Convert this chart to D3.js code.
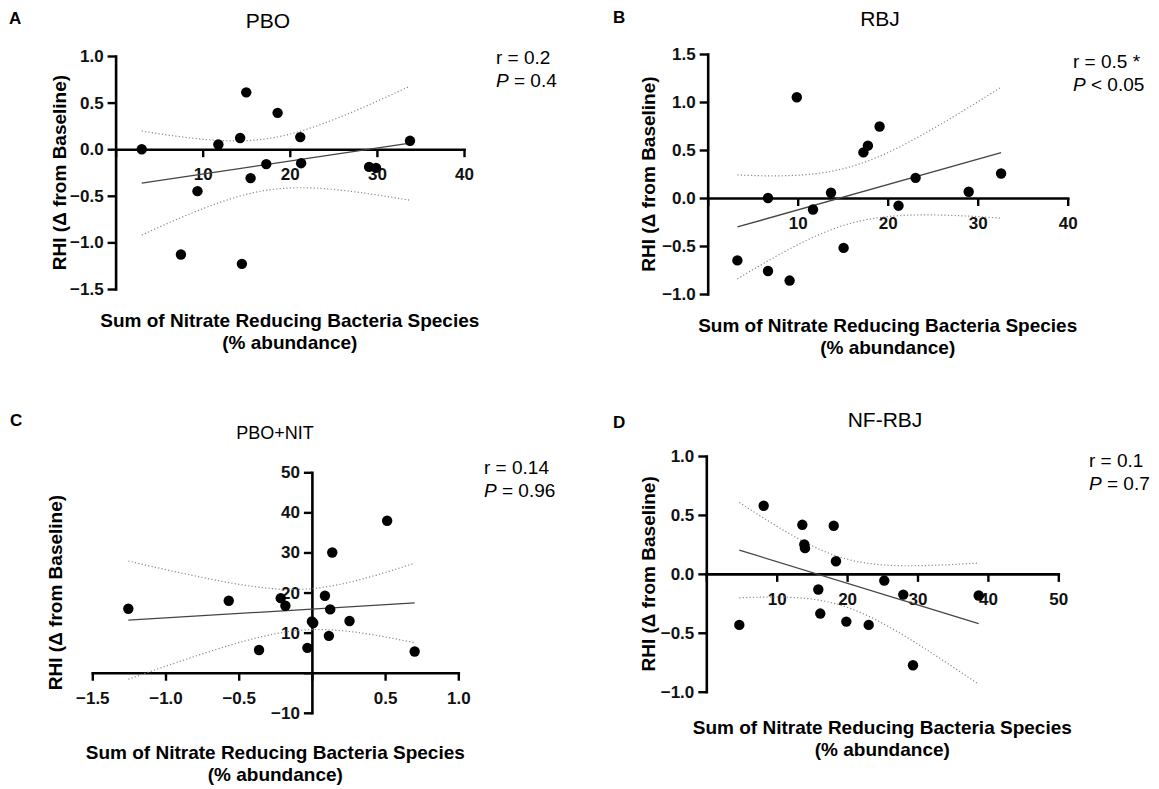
<!DOCTYPE html>
<html>
<head>
<meta charset="utf-8">
<script src="https://cdn.jsdelivr.net/npm/d3@7"></script>
<style>
  body { margin: 0; background: #fff; }
  svg { display: block; font-family: "Liberation Sans", Arial, sans-serif; }
</style>
</head>
<body>
<svg id="chart" width="1159" height="789"></svg>
<script>
// x = sum of nitrate reducing bacteria species (% abundance), y = RHI change from baseline
const pboX = [3.0, 7.5, 9.4, 11.8, 14.3, 15.0, 14.5, 15.5, 17.3, 18.6, 21.2, 21.3, 29.1, 29.9, 33.8];
const pboY = [0.0, -1.13, -0.45, 0.05, 0.12, 0.61, -1.23, -0.31, -0.16, 0.39, 0.13, -0.15, -0.19, -0.20, 0.09];

const rbjX = [3.3, 6.7, 6.7, 9.1, 9.9, 11.7, 13.7, 15.1, 17.3, 17.8, 19.1, 21.2, 23.1, 29.0, 32.6];
const rbjY = [-0.65, 0.0, -0.76, -0.86, 1.05, -0.12, 0.055, -0.52, 0.475, 0.545, 0.745, -0.08, 0.21, 0.065, 0.255];

const nitX = [-1.254, -0.568, -0.361, -0.213, -0.181, -0.031, 0.0, 0.009, 0.089, 0.116, 0.125, 0.139, 0.257, 0.514, 0.702];
const nitY = [15.96, 17.96, 5.66, 18.6, 16.7, 6.2, 12.8, 12.4, 19.2, 9.2, 15.8, 30.0, 12.9, 37.9, 5.3];

const nfX = [4.69, 8.15, 13.64, 13.92, 14.02, 15.91, 16.19, 18.1, 18.42, 19.89, 23.07, 25.28, 27.98, 29.36, 38.69];
const nfY = [-0.433, 0.578, 0.416, 0.249, 0.218, -0.133, -0.337, 0.408, 0.107, -0.405, -0.433, -0.057, -0.176, -0.776, -0.184];

const panelLetters = ['A', 'B', 'C', 'D'];
const panelNames = ['PBO', 'RBJ', 'PBO+NIT', 'NF-RBJ'];
const rLabels = ['r = 0.2', 'r = 0.5 *', 'r = 0.14', 'r = 0.1'];
const pLabels = [' = 0.4', ' < 0.05', ' = 0.96', ' = 0.7'];

const xTicksA = [0, 10, 20, 30, 40];
const yTicksA = [-1.5, -1.0, -0.5, 0.0, 0.5, 1.0];
const xTicksB = [0, 10, 20, 30, 40];
const yTicksB = [-1.0, -0.5, 0.0, 0.5, 1.0, 1.5];
const xTicksC = [-1.5, -1.0, -0.5, 0.0, 0.5, 1.0];
const yTicksC = [-10, 0, 10, 20, 30, 40, 50];
const xTicksD = [0, 10, 20, 30, 40, 50];
const yTicksD = [-1.0, -0.5, 0.0, 0.5, 1.0];

const yTitle = 'RHI (\u0394 from Baseline)';
const xTitle1 = 'Sum of Nitrate Reducing Bacteria Species';
const xTitle2 = '(% abundance)';

// t(0.975, df) for the 95% confidence band
const tCrit = { 13: 2.1604 };

const panels = [
  { xs: pboX, ys: pboY, xTicks: xTicksA, yTicks: yTicksA, fmtY: d3.format('.1f'), fmtX: d3.format('d'),
    xr: [115.6, 464], yr: [289, 56], letter: [9, 18], title: [268, 20, 21], rp: [496, 57],
    yTitleX: 59, xTitleY: 320, hideX0: true, hideY0: false },
  { xs: rbjX, ys: rbjY, xTicks: xTicksB, yTicks: yTicksB, fmtY: d3.format('.1f'), fmtX: d3.format('d'),
    xr: [707.7, 1067.7], yr: [294, 54], letter: [613, 17], title: [880, 18, 21], rp: [1073, 61],
    yTitleX: 648, xTitleY: 325, hideX0: true, hideY0: false },
  { xs: nitX, ys: nitY, xTicks: xTicksC, yTicks: yTicksC, fmtY: d3.format('d'), fmtX: d3.format('.1f'),
    xr: [92.3, 458.3], yr: [712.8, 472.3], letter: [10, 420], title: [275, 433, 18], rp: [484, 467],
    yTitleX: 55, xTitleY: 752, hideX0: true, hideY0: true },
  { xs: nfX, ys: nfY, xTicks: xTicksD, yTicks: yTicksD, fmtY: d3.format('.1f'), fmtX: d3.format('d'),
    xr: [706.3, 1058.3], yr: [691.7, 456], letter: [613, 422], title: [885, 419, 21], rp: [1089, 460],
    yTitleX: 648, xTitleY: 727, hideX0: true, hideY0: false }
];

const svg = d3.select('#chart');

function fit(xs, ys) {
  const n = xs.length;
  const mx = d3.mean(xs), my = d3.mean(ys);
  let sxx = 0, sxy = 0, syy = 0;
  for (let i = 0; i < n; i++) {
    sxx += (xs[i] - mx) ** 2;
    sxy += (xs[i] - mx) * (ys[i] - my);
    syy += (ys[i] - my) ** 2;
  }
  const slope = sxy / sxx;
  const icpt = my - slope * mx;
  const s = Math.sqrt((syy - sxy * sxy / sxx) / (n - 2));
  const t = tCrit[n - 2] || 2.0;
  return { slope, icpt, band: x => t * s * Math.sqrt(1 / n + (x - mx) ** 2 / sxx) };
}

panels.forEach((p, i) => {
  const x = d3.scaleLinear().domain(d3.extent(p.xTicks)).range(p.xr);
  const y = d3.scaleLinear().domain(d3.extent(p.yTicks)).range(p.yr);
  const g = svg.append('g');

  // panel letter and title
  g.append('text').attr('x', p.letter[0]).attr('y', p.letter[1] + 6)
    .style('font-size', '17px').style('font-weight', 'bold').text(panelLetters[i]);
  g.append('text').attr('x', p.title[0]).attr('y', p.title[1] + p.title[2] * 0.36)
    .attr('text-anchor', 'middle').style('font-size', p.title[2] + 'px').text(panelNames[i]);

  // r / P annotation
  g.append('text').attr('x', p.rp[0]).attr('y', p.rp[1] + 7)
    .style('font-size', '19px').text(rLabels[i]);
  const pt = g.append('text').attr('x', p.rp[0]).attr('y', p.rp[1] + 30).style('font-size', '19px');
  pt.append('tspan').style('font-style', 'italic').text('P');
  pt.append('tspan').text(pLabels[i]);

  // axes, crossing at zero
  const xAxis = d3.axisBottom(x).tickValues(p.xTicks).tickSize(8).tickSizeOuter(0).tickPadding(11)
    .tickFormat(d => (d === 0 && p.hideX0) ? '' : p.fmtX(d));
  const yAxis = d3.axisLeft(y).tickValues(p.yTicks).tickSize(8).tickSizeOuter(0).tickPadding(4)
    .tickFormat(d => (d === 0 && p.hideY0) ? '' : p.fmtY(d));

  const gx = g.append('g').attr('transform', `translate(0,${y(0)})`).call(xAxis);
  const gy = g.append('g').attr('transform', `translate(${x(0)},0)`).call(yAxis);
  [gx, gy].forEach(a => {
    a.select('.domain').attr('stroke', '#000').attr('stroke-width', 2.6).attr('stroke-linecap', 'square');
    a.selectAll('.tick line').attr('stroke', '#000').attr('stroke-width', 2.4);
    a.selectAll('.tick text').attr('fill', '#111').style('font-size', '17px').style('font-weight', 'bold')
      .style('font-family', '"Liberation Sans", Arial, sans-serif');
  });

  // axis titles
  g.append('text')
    .attr('transform', `translate(${p.yTitleX},${(p.yr[0] + p.yr[1]) / 2}) rotate(-90)`)
    .attr('text-anchor', 'middle').attr('dy', '0.36em')
    .style('font-size', '19px').style('font-weight', 'bold').text(yTitle);
  const cx = (p.xr[0] + p.xr[1]) / 2;
  g.append('text').attr('x', cx).attr('y', p.xTitleY + 7).attr('text-anchor', 'middle')
    .style('font-size', '19px').style('font-weight', 'bold').text(xTitle1);
  g.append('text').attr('x', cx).attr('y', p.xTitleY + 29).attr('text-anchor', 'middle')
    .style('font-size', '19px').style('font-weight', 'bold').text(xTitle2);

  // regression and 95% CI band
  const f = fit(p.xs, p.ys);
  const [x0, x1] = d3.extent(p.xs);
  const grid = d3.range(0, 61).map(k => x0 + (x1 - x0) * k / 60);
  const line = d3.line().x(d => x(d[0])).y(d => y(d[1]));

  g.append('path').attr('d', line([[x0, f.icpt + f.slope * x0], [x1, f.icpt + f.slope * x1]]))
    .attr('fill', 'none').attr('stroke', '#444').attr('stroke-width', 1.3);
  [1, -1].forEach(sgn => {
    g.append('path')
      .attr('d', line(grid.map(v => [v, f.icpt + f.slope * v + sgn * f.band(v)])))
      .attr('fill', 'none').attr('stroke', '#8a8a8a').attr('stroke-width', 1.2)
      .attr('stroke-dasharray', '1.2,2.2');
  });

  // points
  g.selectAll('circle.pt').data(p.xs.map((v, k) => [v, p.ys[k]])).enter()
    .append('circle').attr('class', 'pt')
    .attr('cx', d => x(d[0])).attr('cy', d => y(d[1])).attr('r', 5.2).attr('fill', '#000');
});
</script>
</body>
</html>
